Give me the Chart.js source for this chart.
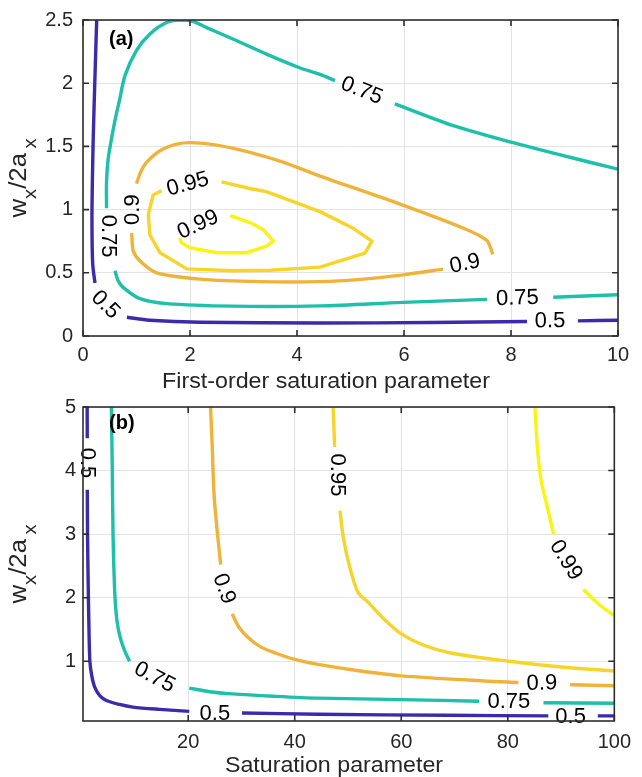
<!DOCTYPE html>
<html>
<head>
<meta charset="utf-8">
<title>Saturation contours</title>
<script src="https://cdn.jsdelivr.net/npm/chart.js@4.4.1/dist/chart.umd.min.js"></script>
<style>
  html, body { margin: 0; padding: 0; background: #fff; }
  #wrap { position: relative; width: 642px; height: 777px; overflow: hidden; }
  #wrap canvas { position: absolute; left: 0; display: block; }
  #chartA { top: 0; }
  #chartB { top: 390px; }
</style>
</head>
<body>
<div id="wrap">
  <canvas id="chartA" width="642" height="400"></canvas>
  <canvas id="chartB" width="642" height="387"></canvas>
</div>
<script>
// contour levels and their colours
const levels = [0.5, 0.75, 0.9, 0.95, 0.99];
const levelColors = ['#3d2aab', '#1ebfab', '#efb33a', '#f6d52b', '#f7f511'];

// ---- panel (a): first-order saturation parameter ----
const aXTicks = [0, 2, 4, 6, 8, 10];
const aYTicks = [0, 0.5, 1, 1.5, 2, 2.5];

// every level is a list of pieces, broken where its label sits
const a050 = [
  [[0.256, 2.5], [0.22, 2.0], [0.187, 1.49], [0.168, 1.0], [0.172, 0.7], [0.185, 0.55], [0.224, 0.42]],
  [[0.82, 0.148], [1.25, 0.125], [2.19, 0.109], [4.43, 0.103], [6.5, 0.107], [8.3, 0.115]],
  [[9.25, 0.12], [10, 0.125]]
];
const a075 = [
  [[0.44, 1.01], [0.44, 1.22], [0.47, 1.4], [0.52, 1.53], [0.6, 1.71], [0.68, 1.86], [0.785, 2.06],
   [1.0, 2.26], [1.25, 2.39], [1.56, 2.48], [1.81, 2.5], [2.05, 2.49], [2.31, 2.44], [2.8, 2.35],
   [3.43, 2.23], [4.06, 2.12], [4.43, 2.07], [4.71, 2.02]],
  [[5.83, 1.836], [6.92, 1.664], [8.02, 1.531], [9.1, 1.414], [10, 1.32]],
  [[0.598, 0.516], [0.654, 0.44], [0.75, 0.385], [1.065, 0.295], [1.56, 0.256], [2.8, 0.236],
   [4.43, 0.238], [5.98, 0.266], [7.55, 0.29]],
  [[8.79, 0.306], [10, 0.326]]
];
const a090 = [
  [[1.0, 1.205], [1.08, 1.3], [1.19, 1.375], [1.44, 1.466], [1.75, 1.518], [2.03, 1.53], [2.5, 1.51],
   [3.12, 1.453], [3.74, 1.375], [4.43, 1.265], [5.8, 1.0625], [7.1, 0.854], [7.55, 0.755], [7.66, 0.646]],
  [[0.91, 0.815], [0.94, 0.672], [1.065, 0.594], [1.38, 0.5], [2.19, 0.45], [3.3, 0.43], [4.43, 0.43],
   [5.24, 0.45], [5.99, 0.484], [6.73, 0.529]]
];
const a095 = [
  [[2.59, 1.219], [3.12, 1.167], [3.44, 1.14], [3.93, 1.0625], [4.43, 0.984], [5.05, 0.852], [5.4, 0.75],
   [5.27, 0.656], [4.43, 0.545], [3.5, 0.52], [2.8, 0.516], [1.94, 0.531], [1.44, 0.658], [1.25, 0.8],
   [1.22, 0.96], [1.31, 1.115], [1.47, 1.15]]
];
const a099 = [
  [[2.75, 0.953], [3.15, 0.893], [3.37, 0.841], [3.56, 0.75], [3.43, 0.711], [3.06, 0.659], [2.5, 0.659],
   [2.0, 0.698], [1.84, 0.737], [1.81, 0.776]]
];
const aLabelText = ['0.5', '0.5', '0.75', '0.75', '0.75', '0.9', '0.9', '0.95', '0.99'];
const aLabelX = [0.42, 8.73, 5.21, 0.467, 8.12, 0.925, 7.14, 1.96, 2.15];
const aLabelY = [0.246, 0.117, 1.94, 0.79, 0.297, 1.0, 0.57, 1.2, 0.88];
const aLabelRot = [45, -1, 22, 90, -2, -90, -12, -15, -25];

// ---- panel (b): saturation parameter ----
const bXTicks = [20, 40, 60, 80, 100];
const bYTicks = [1, 2, 3, 4, 5];

const b050 = [
  [[1.03, 5.0], [1.05, 4.51]],
  [[1.06, 3.7], [1.1, 3.0], [1.22, 2.24], [1.35, 1.6], [1.54, 1.0], [1.9, 0.77], [2.47, 0.588],
   [3.4, 0.46], [4.65, 0.382], [7.1, 0.32], [9.6, 0.279], [14.6, 0.243], [20.2, 0.212]],
  [[30.1, 0.186], [44.4, 0.166], [68.7, 0.15], [87.6, 0.14]],
  [[96.9, 0.14], [100, 0.14]]
];
const b075 = [
  [[5.58, 5.0], [5.75, 4.0], [5.89, 3.0], [6.2, 2.1], [6.51, 1.72], [6.9, 1.5], [7.45, 1.31],
   [8.2, 1.14], [9.0, 1.0]],
  [[20.2, 0.578], [24, 0.52], [28.3, 0.486], [36, 0.45], [44.4, 0.42], [60, 0.397], [74.6, 0.371]],
  [[86.7, 0.347], [100, 0.34]]
];
const b090 = [
  [[24.2, 5.0], [24.5, 4.4], [24.85, 3.63], [25.5, 3.0], [26.1, 2.52]],
  [[28.25, 1.746], [29.5, 1.54], [31.4, 1.36], [33.5, 1.23], [36.35, 1.13], [40, 1.03], [44.4, 0.95],
   [52, 0.85], [60, 0.77], [75.5, 0.69], [82.0, 0.665]],
  [[91.7, 0.63], [100, 0.614]]
];
const b095 = [
  [[47.2, 5.0], [47.5, 4.37]],
  [[48.5, 3.37], [49.1, 2.96], [50.3, 2.49], [51.9, 2.08], [53.75, 1.93], [56.8, 1.66], [60, 1.43],
   [64, 1.26], [69.3, 1.13], [80.2, 1.0], [90, 0.91], [100, 0.846]]
];
const b099 = [
  [[85.1, 5.0], [85.4, 4.55], [85.8, 4.14], [86.4, 3.78], [87.3, 3.47], [88.6, 3.0]],
  [[94.2, 2.13], [97.3, 1.88], [100, 1.72]]
];
const bLabelText = ['0.5', '0.5', '0.5', '0.75', '0.75', '0.9', '0.9', '0.95', '0.99'];
const bLabelX = [1.1, 25.0, 91.8, 13.65, 80.2, 26.7, 86.4, 48.0, 90.9];
const bLabelY = [4.12, 0.17, 0.127, 0.745, 0.36, 2.14, 0.65, 3.93, 2.59];
const bLabelRot = [90, 0, 0, 28, 0, 70, -2, 90, 58];

const FONT = '"Liberation Sans", Arial, Helvetica, sans-serif';

function contourSets(groups, tensions) {
  const sets = [];
  groups.forEach((pieces, i) => {
    pieces.forEach(piece => {
      sets.push({
        label: String(levels[i]),
        data: piece.map(([x, y]) => ({ x, y })),
        showLine: true,
        borderColor: levelColors[i],
        borderWidth: 3.4,
        borderCapStyle: 'butt',
        borderJoinStyle: 'round',
        pointRadius: 0,
        tension: tensions[i],
        fill: false
      });
    });
  });
  return sets;
}

// contour labels, axes box with inward ticks, panel tag and axis titles
function panelDecor(cfg) {
  return {
    id: 'panelDecor',
    afterDatasetsDraw(chart) {
      const { ctx, chartArea: area, scales: { x, y } } = chart;
      ctx.save();

      ctx.fillStyle = '#000';
      ctx.font = '22px ' + FONT;
      ctx.textAlign = 'center';
      ctx.textBaseline = 'middle';
      cfg.labelText.forEach((t, i) => {
        ctx.save();
        ctx.translate(x.getPixelForValue(cfg.labelX[i]), y.getPixelForValue(cfg.labelY[i]));
        ctx.rotate(cfg.labelRot[i] * Math.PI / 180);
        ctx.fillText(t, 0, 0);
        ctx.restore();
      });

      ctx.strokeStyle = '#2e2e2e';
      ctx.lineWidth = 1.6;
      ctx.strokeRect(area.left, area.top, area.right - area.left, area.bottom - area.top);
      ctx.beginPath();
      x.ticks.forEach(t => {
        const px = x.getPixelForValue(t.value);
        ctx.moveTo(px, area.bottom); ctx.lineTo(px, area.bottom - 6);
        ctx.moveTo(px, area.top); ctx.lineTo(px, area.top + 6);
      });
      y.ticks.forEach(t => {
        const py = y.getPixelForValue(t.value);
        ctx.moveTo(area.left, py); ctx.lineTo(area.left + 6, py);
        ctx.moveTo(area.right, py); ctx.lineTo(area.right - 6, py);
      });
      ctx.stroke();

      ctx.fillStyle = '#000';
      ctx.font = 'bold 20px ' + FONT;
      ctx.textAlign = 'left';
      ctx.textBaseline = 'middle';
      ctx.fillText(cfg.tag, area.left + 26, area.top + cfg.tagDy);

      // x title
      ctx.fillStyle = '#262626';
      ctx.save();
      ctx.translate(cfg.xTitleX, cfg.xTitleY);
      ctx.scale(1.08, 1);
      ctx.font = '21.5px ' + FONT;
      ctx.textAlign = 'center';
      ctx.textBaseline = 'alphabetic';
      ctx.fillText(cfg.xTitle, 0, 0);
      ctx.restore();

      // y title w_x/2a_x, read bottom to top
      const parts = [['w', false], ['x', true], ['/2a', false], ['x', true]];
      ctx.save();
      ctx.translate(26, (area.top + area.bottom) / 2);
      ctx.rotate(-Math.PI / 2);
      ctx.scale(1.12, 1);
      ctx.textAlign = 'left';
      ctx.textBaseline = 'alphabetic';
      const mainFont = '23px ' + FONT, subFont = '18px ' + FONT;
      let total = 0;
      parts.forEach(([s, sub], i) => {
        ctx.font = sub ? subFont : mainFont;
        total += ctx.measureText(s).width + (i === 3 ? 4 : 0);
      });
      let pos = -total / 2;
      parts.forEach(([s, sub], i) => {
        if (i === 3) pos += 4;
        ctx.font = sub ? subFont : mainFont;
        ctx.fillText(s, pos, sub ? 10 : 0);
        pos += ctx.measureText(s).width;
      });
      ctx.restore();

      ctx.restore();
    }
  };
}

function axisOpts(min, max, tickValues, pad, fit) {
  return {
    type: 'linear',
    min, max,
    afterBuildTicks: s => { s.ticks = tickValues.map(v => ({ value: v })); },
    afterFit: fit,
    grid: { color: '#e3e3e3', lineWidth: 1, drawTicks: false },
    border: { display: false },
    ticks: {
      color: '#262626',
      font: { family: FONT, size: 20, lineHeight: 1 },
      padding: pad,
      maxRotation: 0,
      autoSkip: false,
      callback: v => String(v)
    }
  };
}

function makeChart(id, groups, tensions, opts) {
  return new Chart(document.getElementById(id), {
    type: 'scatter',
    data: { datasets: contourSets(groups, tensions) },
    options: {
      responsive: false,
      devicePixelRatio: 1,
      animation: false,
      layout: { padding: { left: 0, top: opts.top, right: 24, bottom: 0 } },
      plugins: { legend: { display: false }, tooltip: { enabled: false } },
      scales: {
        x: axisOpts(opts.xMin, opts.xMax, opts.xTicks, opts.xPad, s => { s.height = opts.xHeight; }),
        y: axisOpts(opts.yMin, opts.yMax, opts.yTicks, opts.yPad, s => { s.width = 83; })
      }
    },
    plugins: [panelDecor(opts.decor)]
  });
}

makeChart('chartA', [a050, a075, a090, a095, a099], [0.3, 0.3, 0.25, 0, 0], {
  top: 16, xHeight: 64,
  xMin: 0, xMax: 10, xTicks: aXTicks, xPad: 9,
  yMin: 0, yMax: 2.5, yTicks: aYTicks, yPad: 10,
  decor: {
    tag: '(a)', tagDy: 19,
    labelText: aLabelText, labelX: aLabelX, labelY: aLabelY, labelRot: aLabelRot,
    xTitle: 'First-order saturation parameter', xTitleX: 326, xTitleY: 388
  }
});

makeChart('chartB', [b050, b075, b090, b095, b099], [0.3, 0.3, 0.3, 0.3, 0.2], {
  top: 11, xHeight: 56,
  xMin: 0.25, xMax: 100, xTicks: bXTicks, xPad: 11,
  yMin: 0.06, yMax: 5, yTicks: bYTicks, yPad: 7,
  decor: {
    tag: '(b)', tagDy: 16,
    labelText: bLabelText, labelX: bLabelX, labelY: bLabelY, labelRot: bLabelRot,
    xTitle: 'Saturation parameter', xTitleX: 334, xTitleY: 382
  }
});
</script>
</body>
</html>
